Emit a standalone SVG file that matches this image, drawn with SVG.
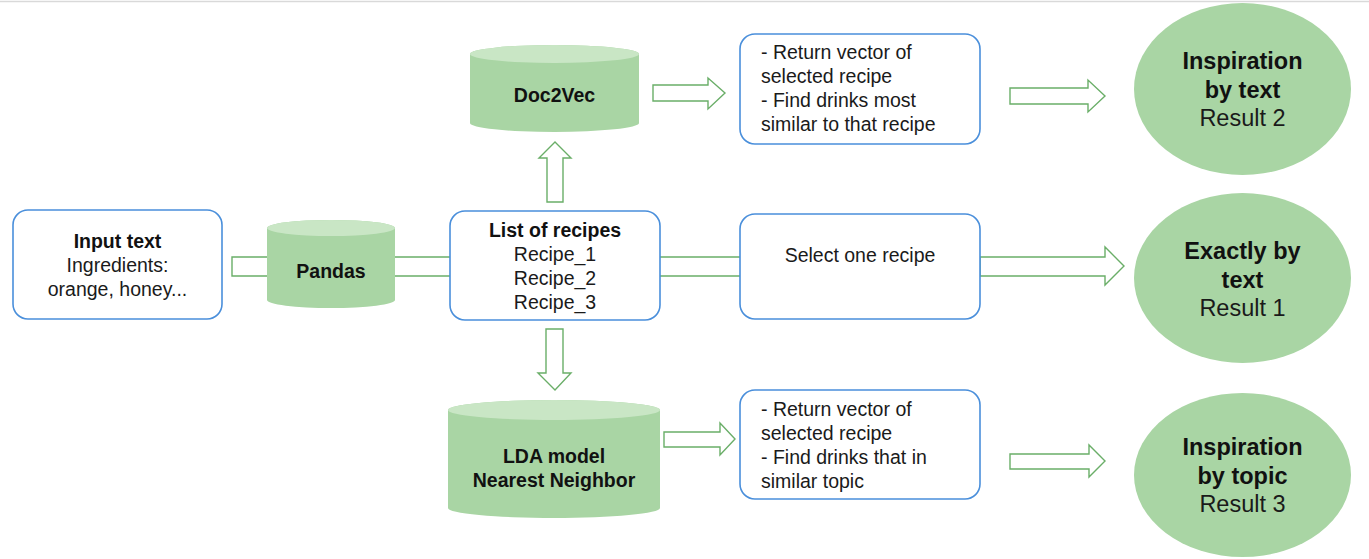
<svg xmlns="http://www.w3.org/2000/svg" width="1369" height="559" viewBox="0 0 1369 559">
<style>
  .box{fill:#ffffff;stroke:#4a8fdb;stroke-width:1.6}
  .cyl{fill:#a9d5a4;stroke:none}
  .cyltop{fill:#c9e6c5;stroke:none}
  .res{fill:#a9d5a4;stroke:none}
  .arrow{fill:#ffffff;stroke:#6aae68;stroke-width:1.4;stroke-linejoin:miter}
  text{font-family:"Liberation Sans",Arial,sans-serif;fill:#1a1a1a;font-size:19.5px}
  .b{font-weight:bold;fill:#111111}
  .c{text-anchor:middle}
  .big{font-size:23.5px}
</style>
<rect x="0" y="0" width="1369" height="559" fill="#ffffff"/>
<line x1="0" y1="1.5" x2="1369" y2="1.5" stroke="#d9d9d9" stroke-width="1.5"/>

<g id="connectors">
  <polygon class="arrow" points="232,257 455,257 455,276 232,276"/>
  <polygon class="arrow" points="655,257 745,257 745,276 655,276"/>
  <polygon class="arrow" points="980,257 1105,257 1105,247 1124,266 1105,285 1105,276 980,276"/>
  <polygon class="arrow" points="653,85 708,85 708,78 725,93 708,109 708,101 653,101"/>
  <polygon class="arrow" points="1010,88 1088,88 1088,80 1105,96 1088,112 1088,104 1010,104"/>
  <polygon class="arrow" points="664,432 720,432 720,423 735,439 720,455 720,447 664,447"/>
  <polygon class="arrow" points="1010,454 1089,454 1089,445 1105,461 1089,477 1089,469 1010,469"/>
  <polygon class="arrow" points="547,202 547,158 539,158 555,142 571,158 563,158 563,202"/>
  <polygon class="arrow" points="546,329 546,373 538,373 555,390 571,373 563,373 563,329"/>
</g>

<g id="input">
  <rect class="box" x="13" y="210" width="209" height="109" rx="15"/>
  <text class="c b" x="117.5" y="248">Input text</text>
  <text class="c" x="117.5" y="272">Ingredients:</text>
  <text class="c" x="117.5" y="296">orange, honey...</text>
</g>

<g id="pandas">
  <path class="cyl" d="M267,228 A64,8 0 0 1 395,228 L395,300 A64,8 0 0 1 267,300 Z"/>
  <ellipse class="cyltop" cx="331" cy="228" rx="64" ry="8"/>
  <text class="c b" x="331" y="278">Pandas</text>
</g>

<g id="list">
  <rect class="box" x="450" y="211" width="210" height="109" rx="15"/>
  <text class="c b" x="555" y="237">List of recipes</text>
  <text class="c" x="555" y="261">Recipe_1</text>
  <text class="c" x="555" y="285">Recipe_2</text>
  <text class="c" x="555" y="309">Recipe_3</text>
</g>

<g id="doc2vec">
  <path class="cyl" d="M470,54 A84.5,9 0 0 1 639,54 L639,123 A84.5,9 0 0 1 470,123 Z"/>
  <ellipse class="cyltop" cx="554.5" cy="54" rx="84.5" ry="9"/>
  <text class="c b" x="554.5" y="102">Doc2Vec</text>
</g>

<g id="lda">
  <path class="cyl" d="M448,410 A106,10 0 0 1 660,410 L660,508 A106,10 0 0 1 448,508 Z"/>
  <ellipse class="cyltop" cx="554" cy="410" rx="106" ry="10"/>
  <text class="c b" x="554" y="463">LDA model</text>
  <text class="c b" x="554" y="487">Nearest Neighbor</text>
</g>

<g id="doc2vec-step">
  <rect class="box" x="740" y="34" width="240" height="110" rx="15"/>
  <text x="761" y="59">- Return vector of</text>
  <text x="761" y="83">selected recipe</text>
  <text x="761" y="107">- Find drinks most</text>
  <text x="761" y="131">similar to that recipe</text>
</g>

<g id="select">
  <rect class="box" x="740" y="214" width="240" height="105" rx="15"/>
  <text class="c" x="860" y="262">Select one recipe</text>
</g>

<g id="lda-step">
  <rect class="box" x="740" y="390" width="240" height="109" rx="15"/>
  <text x="761" y="416">- Return vector of</text>
  <text x="761" y="440">selected recipe</text>
  <text x="761" y="464">- Find drinks that in</text>
  <text x="761" y="488">similar topic</text>
</g>

<g id="result2">
  <ellipse class="res" cx="1242.5" cy="89" rx="108.5" ry="86"/>
  <text class="c b big" x="1242.5" y="69">Inspiration</text>
  <text class="c b big" x="1242.5" y="97.5">by text</text>
  <text class="c big" x="1242.5" y="126">Result 2</text>
</g>

<g id="result1">
  <ellipse class="res" cx="1242.5" cy="278" rx="108.5" ry="85"/>
  <text class="c b big" x="1242.5" y="259">Exactly by</text>
  <text class="c b big" x="1242.5" y="287.5">text</text>
  <text class="c big" x="1242.5" y="316">Result 1</text>
</g>

<g id="result3">
  <ellipse class="res" cx="1242.5" cy="475" rx="108.5" ry="82"/>
  <text class="c b big" x="1242.5" y="455">Inspiration</text>
  <text class="c b big" x="1242.5" y="483.5">by topic</text>
  <text class="c big" x="1242.5" y="512">Result 3</text>
</g>
</svg>
